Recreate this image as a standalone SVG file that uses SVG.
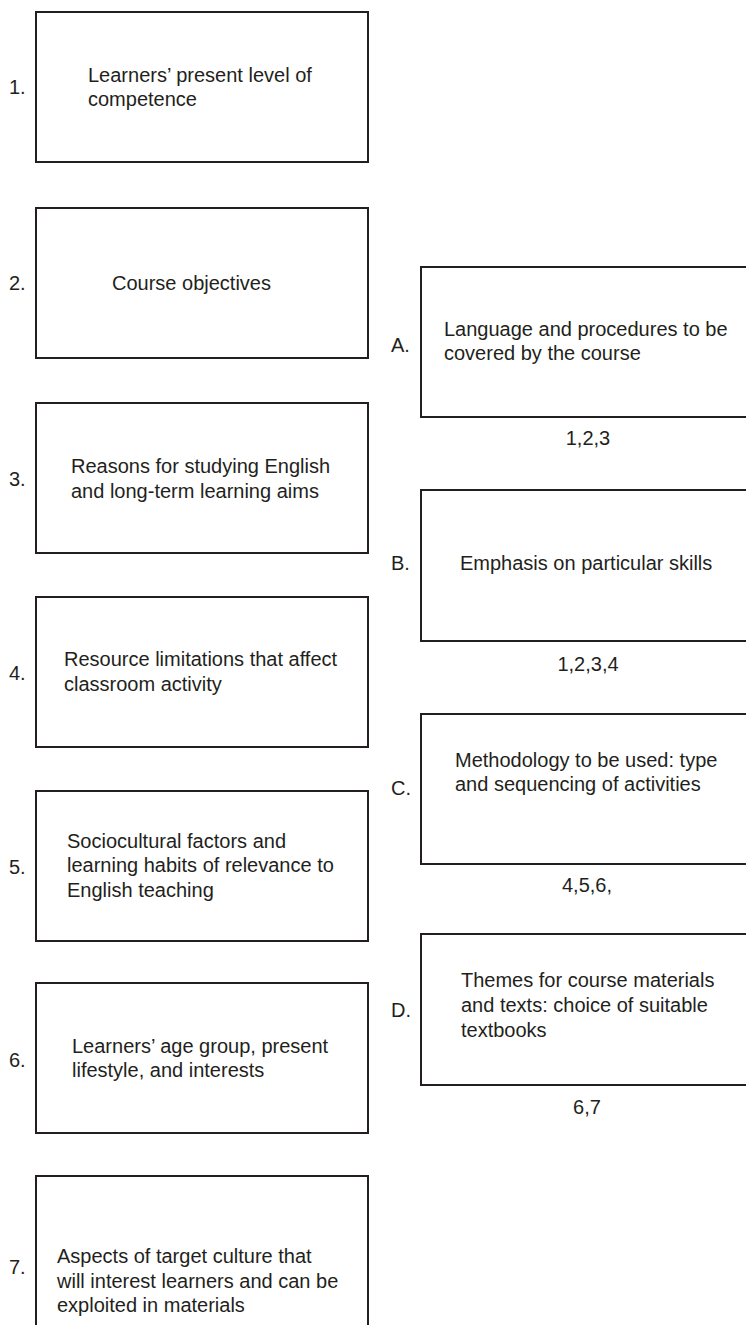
<svg xmlns="http://www.w3.org/2000/svg" width="746" height="1325" viewBox="0 0 746 1325">
  <style>
    .box { fill: #ffffff; stroke: #231f20; stroke-width: 2; }
    .txt { font-family: "Liberation Sans", Arial, sans-serif; font-size: 20px; fill: #231f20; }
    .num { text-anchor: middle; }
  </style>
  <rect x="0" y="0" width="746" height="1325" fill="#ffffff"/>

  <!-- Left column: factors 1-7 -->
  <g id="factor-1">
    <rect class="box" x="36" y="12" width="332" height="150"/>
    <text class="txt" x="9" y="94">1.</text>
    <text class="txt" x="88" y="82">Learners’ present level of</text>
    <text class="txt" x="88" y="106">competence</text>
  </g>
  <g id="factor-2">
    <rect class="box" x="36" y="208" width="332" height="150"/>
    <text class="txt" x="9" y="290">2.</text>
    <text class="txt" x="112" y="290">Course objectives</text>
  </g>
  <g id="factor-3">
    <rect class="box" x="36" y="403" width="332" height="150"/>
    <text class="txt" x="9" y="486">3.</text>
    <text class="txt" x="71" y="473">Reasons for studying English</text>
    <text class="txt" x="71" y="498">and long-term learning aims</text>
  </g>
  <g id="factor-4">
    <rect class="box" x="36" y="597" width="332" height="150"/>
    <text class="txt" x="9" y="680">4.</text>
    <text class="txt" x="64" y="666">Resource limitations that affect</text>
    <text class="txt" x="64" y="691">classroom activity</text>
  </g>
  <g id="factor-5">
    <rect class="box" x="36" y="791" width="332" height="150"/>
    <text class="txt" x="9" y="874">5.</text>
    <text class="txt" x="67" y="848">Sociocultural factors and</text>
    <text class="txt" x="67" y="872">learning habits of relevance to</text>
    <text class="txt" x="67" y="897">English teaching</text>
  </g>
  <g id="factor-6">
    <rect class="box" x="36" y="983" width="332" height="150"/>
    <text class="txt" x="9" y="1067">6.</text>
    <text class="txt" x="72" y="1053">Learners’ age group, present</text>
    <text class="txt" x="72" y="1077">lifestyle, and interests</text>
  </g>
  <g id="factor-7">
    <!-- open at the bottom: the box runs past the page edge -->
    <rect class="box" x="36" y="1176" width="332" height="180"/>
    <text class="txt" x="9" y="1274">7.</text>
    <text class="txt" x="57" y="1263">Aspects of target culture that</text>
    <text class="txt" x="57" y="1288">will interest learners and can be</text>
    <text class="txt" x="57" y="1312">exploited in materials</text>
  </g>

  <!-- Right column: course decisions A-D with the factors they draw on -->
  <g id="decision-A">
    <rect class="box" x="421" y="267" width="340" height="150"/>
    <text class="txt" x="391" y="352">A.</text>
    <text class="txt" x="444" y="336">Language and procedures to be</text>
    <text class="txt" x="444" y="360">covered by the course</text>
    <text class="txt num" x="588" y="445">1,2,3</text>
  </g>
  <g id="decision-B">
    <rect class="box" x="421" y="490" width="340" height="151"/>
    <text class="txt" x="391" y="570">B.</text>
    <text class="txt" x="460" y="570">Emphasis on particular skills</text>
    <text class="txt num" x="588" y="671">1,2,3,4</text>
  </g>
  <g id="decision-C">
    <rect class="box" x="421" y="714" width="340" height="150"/>
    <text class="txt" x="391" y="795">C.</text>
    <text class="txt" x="455" y="767">Methodology to be used: type</text>
    <text class="txt" x="455" y="791">and sequencing of activities</text>
    <text class="txt num" x="587" y="892">4,5,6,</text>
  </g>
  <g id="decision-D">
    <rect class="box" x="421" y="934" width="340" height="151"/>
    <text class="txt" x="391" y="1017">D.</text>
    <text class="txt" x="461" y="987">Themes for course materials</text>
    <text class="txt" x="461" y="1012">and texts: choice of suitable</text>
    <text class="txt" x="461" y="1037">textbooks</text>
    <text class="txt num" x="587" y="1114">6,7</text>
  </g>
</svg>
